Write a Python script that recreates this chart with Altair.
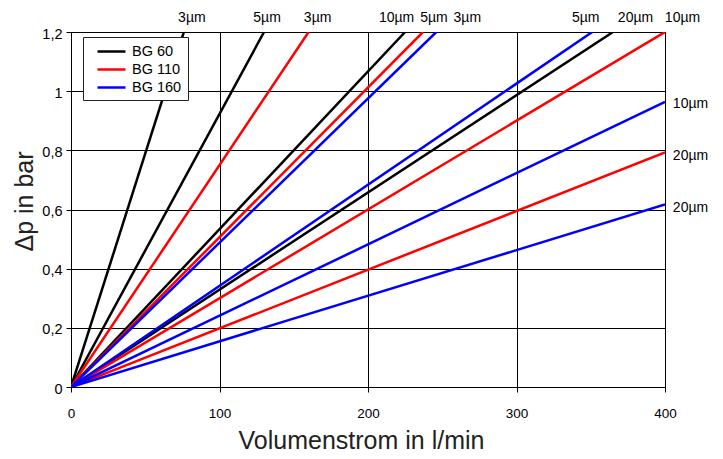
import altair as alt
import pandas as pd

# Pressure drop lines of the filter housings, one per mesh size.
series = ["BG 60", "BG 60", "BG 60", "BG 60",
          "BG 110", "BG 110", "BG 110", "BG 110",
          "BG 160", "BG 160", "BG 160", "BG 160"]
mesh = ["3µm", "5µm", "10µm", "20µm",
        "3µm", "5µm", "10µm", "20µm",
        "3µm", "5µm", "10µm", "20µm"]
# end point of each straight line (flow in l/min, Δp in bar)
end_flow = [76, 130, 225, 365,
            160, 237, 400, 400,
            246, 351, 400, 400]
end_dp = [1.2, 1.2, 1.2, 1.2,
          1.2, 1.2, 1.2, 0.793,
          1.2, 1.2, 0.964, 0.617]

# pixel nudges for the mesh labels at the line ends
label_dx = [8, 3, -8.5, 22.5,
            9, 11, 17.5, 25.5,
            31, -6.5, 25.5, 25.5]
label_dy = [-14, -14, -14, -14,
            -14, -14, -14, 4,
            -14, -14, 2, 4]

x_ticks = [0, 100, 200, 300, 400]
y_ticks = [0, 0.2, 0.4, 0.6, 0.8, 1.0, 1.2]
series_order = ["BG 60", "BG 110", "BG 160"]
series_colors = ["#000000", "#ff0000", "#0000ff"]

rows = []
for i, (s, fx, fy) in enumerate(zip(series, end_flow, end_dp)):
    rows.append({"line": i, "series": s, "flow": 0, "dp": 0})
    rows.append({"line": i, "series": s, "flow": fx, "dp": fy})
lines_df = pd.DataFrame(rows)

labels_df = pd.DataFrame({
    "idx": list(range(len(mesh))), "series": series, "mesh": mesh,
    "flow": end_flow, "dp": end_dp,
})

FONT = "Liberation Sans"

x_scale = alt.Scale(domain=[0, 400], nice=False, zero=True)
y_scale = alt.Scale(domain=[0, 1.2], nice=False, zero=True)

lines = alt.Chart(lines_df).mark_line(strokeWidth=2.5, clip=True).encode(
    x=alt.X("flow:Q", scale=x_scale,
            axis=alt.Axis(title="Volumenstrom in l/min", values=x_ticks,
                          titleX=290)),
    y=alt.Y("dp:Q", scale=y_scale,
            axis=alt.Axis(title="Δp in bar", values=y_ticks, titleY=169,
                          labelExpr="replace(format(datum.value, '~g'), '.', ',')")),
    color=alt.Color("series:N",
                    scale=alt.Scale(domain=series_order, range=series_colors),
                    legend=alt.Legend(title=None, orient="none",
                                      legendX=12, legendY=5,
                                      symbolType="M-2,0H2", symbolSize=196,
                                      symbolStrokeWidth=2.5, symbolOffset=14,
                                      labelOffset=12,
                                      labelFontSize=14.5, labelFont=FONT,
                                      labelColor="#000",
                                      fillColor="white", strokeColor="#222",
                                      padding=6, rowPadding=3)),
    detail="line:N",
)

# one text layer per mesh label so each can carry its own nudge
text_layers = []
for i in range(len(mesh)):
    text_layers.append(
        alt.Chart(labels_df).transform_filter(alt.datum.idx == i).mark_text(
            font=FONT, fontSize=14, color="#000", align="center",
            baseline="middle", dx=label_dx[i], dy=label_dy[i],
        ).encode(
            x=alt.X("flow:Q", scale=x_scale),
            y=alt.Y("dp:Q", scale=y_scale),
            text="mesh:N",
        )
    )

chart = alt.layer(lines, *text_layers).properties(
    width=594, height=355,
    autosize=alt.AutoSizeParams(type="none"),
    padding={"left": 71, "top": 32, "right": 58, "bottom": 72},
).configure_view(
    stroke="#555", strokeWidth=1
).configure_axis(
    labelFont=FONT, titleFont=FONT, labelColor="#000", titleColor="#222",
    titleFontWeight="normal", domainColor="#000", tickColor="#000",
    gridColor="#000", gridWidth=1, gridOpacity=1,
).configure_axisX(
    tickSize=5, labelPadding=14, labelFontSize=13.5, titleFontSize=25,
    titlePadding=9, labelFlush=False,
).configure_axisY(
    tickSize=5, labelPadding=4, labelFontSize=14.5, titleFontSize=25,
    titlePadding=4, labelOffset=2,
)

chart.save("out.html", embed_options={"renderer": "svg", "actions": False})
